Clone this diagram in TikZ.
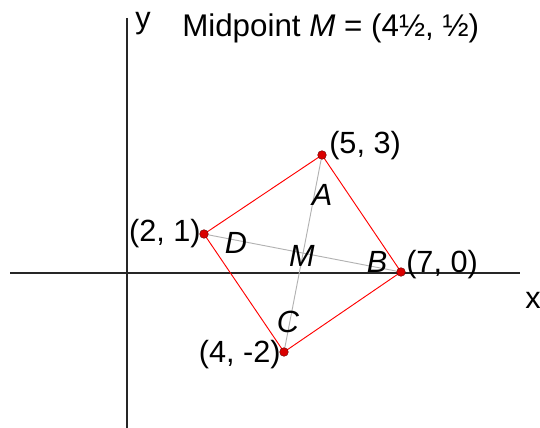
\documentclass[tikz,border=0pt]{standalone}
\usepackage{fontspec}
\setmainfont{Liberation Sans}
\begin{document}
\begin{tikzpicture}[x=0.75pt,y=-0.75pt,
  lbl/.style={font=\fontsize{23}{27}\selectfont, inner sep=0pt},
  ilbl/.style={font=\fontsize{23}{27}\selectfont\itshape, inner sep=0pt},
  axis/.style={draw=black!85, line width=1.1pt},
  side/.style={draw=red, line width=0.7pt},
  diag/.style={draw=black!30, line width=0.7pt},
  dot/.style={circle, fill=red!85!black, draw=black!60!red, line width=0.3pt, inner sep=0pt, minimum size=6.5pt}]
\useasboundingbox (0,0) rectangle (540,428);
% axes
\coordinate (xl) at (10,273);
\coordinate (xr) at (520,273);
\coordinate (yt) at (127,18);
\coordinate (yb) at (127,428);
\draw[axis] (xl) -- (xr);
\draw[axis] (yt) -- (yb);
\node[lbl] (xlab) at (533,300) {x};
\node[lbl] (ylab) at (143,24) {y};
\node[lbl, anchor=west, font=\fontsize{23.5}{27}\selectfont] (title) at (182,28) {Midpoint \textit{M} = (4½, ½)};
% points
\coordinate (A) at (322,155);
\coordinate (B) at (401,272);
\coordinate (C) at (284,352);
\coordinate (D) at (204,234);
\draw[diag] (A) -- (C);
\draw[diag] (D) -- (B);
\draw[side] (A) -- (B) -- (C) -- (D) -- cycle;
\node[dot] (pA) at (A) {};
\node[dot] (pB) at (B) {};
\node[dot] (pC) at (C) {};
\node[dot] (pD) at (D) {};
% coordinate labels
\node[lbl, anchor=west] (cA) at (329,146) {(5, 3)};
\node[lbl, anchor=east] (cD) at (201,234) {(2, 1)};
\node[lbl, anchor=west] (cB) at (406,265) {(7, 0)};
\node[lbl, anchor=east] (cC) at (281,355) {(4, -2)};
% letters
\node[ilbl] (lA) at (322,195) {A};
\node[ilbl] (lB) at (377,262) {B};
\node[ilbl] (lC) at (288,322) {C};
\node[ilbl] (lD) at (236,243) {D};
\node[ilbl] (lM) at (302,256) {M};
\end{tikzpicture}
\end{document}
